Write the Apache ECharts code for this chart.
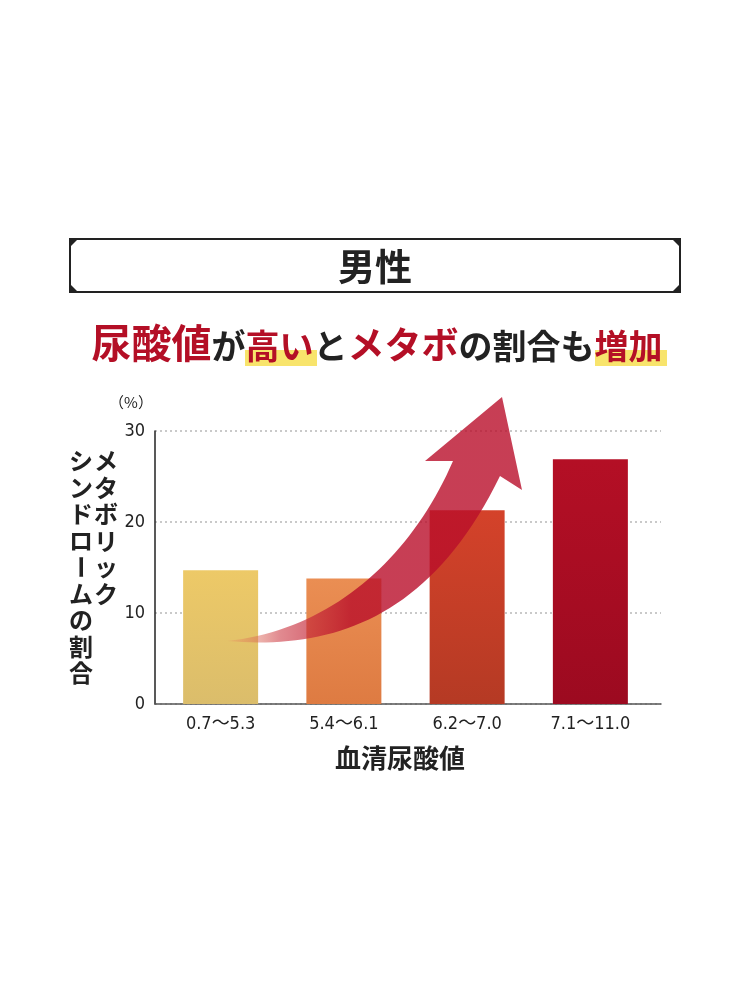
<!DOCTYPE html>
<html>
<head>
<meta charset="utf-8">
<script src="https://cdn.jsdelivr.net/npm/echarts@6/dist/echarts.min.js"></script>
<style>
	html, body { margin: 0; padding: 0; background: #fff; }
	#chart { width: 750px; height: 986px; }
</style>
</head>
<body>
<div id="chart"></div>
<script>
var categories = ['0.7〜5.3', '5.4〜6.1', '6.2〜7.0', '7.1〜11.0'];
var values = [14.7, 13.8, 21.3, 26.9];
var yTicks = [0, 10, 20, 30];
var barColors = [
	['#EDC967', '#DBBD6B'],
	['#EA8E53', '#DE7B42'],
	['#D4422A', '#B53A24'],
	['#B40F25', '#9C0A20']
];

var narrowFont = "'DejaVu Sans Condensed', 'DejaVu Sans', 'Noto Sans CJK JP', sans-serif";
var jpFont = "'Noto Sans CJK JP', sans-serif";
var red = '#B40F26';
var ink = '#222';

window.onload = function() {
	chart();
};

function verticalLabel(str, x, y0, pitch) {
	let items = [];
	for (let i = 0; i < str.length; i++) {
		let ch = str[i];
		items.push({
			type: 'text',
			x: x,
			y: y0 + i * pitch,
			rotation: ch === 'ー' ? -Math.PI / 2 : 0,
			style: {
				text: ch,
				font: 'bold 24px ' + jpFont,
				fill: ink,
				align: 'center',
				verticalAlign: 'middle'
			}
		});
	}
	return items;
}

// sample a cubic bezier into points (decoration only)
function bezier(p0, p1, p2, p3, n) {
	let pts = [];
	for (let i = 0; i <= n; i++) {
		let t = i / n, u = 1 - t;
		pts.push([
			u * u * u * p0[0] + 3 * u * u * t * p1[0] + 3 * u * t * t * p2[0] + t * t * t * p3[0],
			u * u * u * p0[1] + 3 * u * u * t * p1[1] + 3 * u * t * t * p2[1] + t * t * t * p3[1]
		]);
	}
	return pts;
}

function arrowPoints() {
	let upper = bezier([227, 641], [330, 630], [410, 560], [453, 461], 40);
	let head = [[425, 461], [502, 397], [522, 490]];
	let lower = bezier([500, 476], [430, 620], [330, 650], [227, 641], 40);
	return upper.concat(head, lower);
}

function chart() {
	let myChart = echarts.init(document.getElementById('chart'));

	let corner = 8;
	let box = { x: 70, y: 239, w: 610, h: 53 };

	let graphics = [
		// title box
		{
			type: 'rect',
			shape: { x: box.x, y: box.y, width: box.w, height: box.h },
			style: { fill: 'none', stroke: ink, lineWidth: 2 }
		},
		{ type: 'polygon', shape: { points: [[box.x, box.y], [box.x + corner, box.y], [box.x, box.y + corner]] }, style: { fill: ink } },
		{ type: 'polygon', shape: { points: [[box.x + box.w, box.y], [box.x + box.w - corner, box.y], [box.x + box.w, box.y + corner]] }, style: { fill: ink } },
		{ type: 'polygon', shape: { points: [[box.x, box.y + box.h], [box.x + corner, box.y + box.h], [box.x, box.y + box.h - corner]] }, style: { fill: ink } },
		{ type: 'polygon', shape: { points: [[box.x + box.w, box.y + box.h], [box.x + box.w - corner, box.y + box.h], [box.x + box.w, box.y + box.h - corner]] }, style: { fill: ink } },
		{
			type: 'text',
			x: 375,
			y: 267,
			style: {
				text: '男性',
				font: 'bold 37px ' + jpFont,
				fill: ink,
				align: 'center',
				verticalAlign: 'middle'
			}
		},
		// highlights
		{ type: 'rect', z: 1, shape: { x: 245, y: 350, width: 72, height: 16 }, style: { fill: '#F8E46C' } },
		{ type: 'rect', z: 1, shape: { x: 595, y: 350, width: 72, height: 16 }, style: { fill: '#F8E46C' } },
		{
			type: 'text',
			z: 2,
			x: 377,
			y: 341,
			style: {
				text: '{b|尿酸値}{k|が}{r|高い}{k|と}{m|メタボ}{k|の割合も}{r|増加}',
				align: 'center',
				verticalAlign: 'middle',
				rich: {
					b: { font: 'bold 40px ' + jpFont, fill: red, verticalAlign: 'bottom', lineHeight: 44 },
					m: { font: 'bold 37px ' + jpFont, fill: red, verticalAlign: 'bottom', lineHeight: 44 },
					r: { font: 'bold 34px ' + jpFont, fill: red, verticalAlign: 'bottom', lineHeight: 44 },
					k: { font: 'bold 34px ' + jpFont, fill: ink, verticalAlign: 'bottom', lineHeight: 44 }
				}
			}
		},
		{
			type: 'text',
			x: 131,
			y: 402,
			style: {
				text: '（%）',
				font: '15px ' + jpFont,
				fill: ink,
				align: 'center',
				verticalAlign: 'middle'
			}
		},
		// rising arrow
		{
			type: 'polygon',
			z: 10,
			shape: { points: arrowPoints() },
			style: {
				fill: new echarts.graphic.LinearGradient(0, 0, 1, 0, [
					{ offset: 0, color: 'rgba(235,150,100,0.3)' },
					{ offset: 0.18, color: 'rgba(205,60,70,0.6)' },
					{ offset: 0.42, color: 'rgba(185,14,42,0.8)' },
					{ offset: 1, color: 'rgba(185,14,42,0.8)' }
				])
			}
		}
	];
	graphics = graphics.concat(verticalLabel('メタボリック', 106, 461, 26.5));
	graphics = graphics.concat(verticalLabel('シンドロームの割合', 81, 461, 26.5));

	option = {
		animation: false,
		backgroundColor: '#fff',
		grid: [{
			left: 155,
			right: 89,
			top: 431,
			bottom: 282
		}, {
			left: 159,
			right: 98,
			top: 431,
			bottom: 282
		}],
		xAxis: [{
			type: 'category',
			gridIndex: 0,
			data: categories,
			axisLine: { lineStyle: { color: '#555', width: 1.5 } },
			axisTick: { show: false },
			axisLabel: { show: false },
			name: '血清尿酸値',
			nameLocation: 'middle',
			nameGap: 41,
			nameTextStyle: {
				fontFamily: jpFont,
				fontWeight: 'bold',
				fontSize: 26,
				color: ink,
				padding: [0, 16, 0, 0]
			}
		}, {
			type: 'category',
			gridIndex: 1,
			data: categories,
			axisLine: { show: false },
			axisTick: { show: false },
			axisLabel: {
				margin: 11,
				fontStyle: 'condensed',
				fontFamily: narrowFont,
				fontSize: 18,
				color: ink
			}
		}],
		yAxis: [{
			type: 'value',
			gridIndex: 0,
			min: yTicks[0],
			max: yTicks[yTicks.length - 1],
			interval: 10,
			axisLine: { show: true, lineStyle: { color: ink, width: 1.5 } },
			axisTick: { show: false },
			axisLabel: {
				margin: 10,
				fontStyle: 'condensed',
				fontFamily: narrowFont,
				fontSize: 18,
				color: ink
			},
			splitLine: {
				show: true,
				lineStyle: { color: '#B8B8B8', type: [2, 3], width: 1.5 }
			}
		}, {
			type: 'value',
			gridIndex: 1,
			min: yTicks[0],
			max: yTicks[yTicks.length - 1],
			show: false
		}],
		series: [{
			type: 'bar',
			xAxisIndex: 1,
			yAxisIndex: 1,
			barWidth: 75,
			z: 3,
			data: values.map(function(v, i) {
				return {
					value: v,
					itemStyle: {
						color: new echarts.graphic.LinearGradient(0, 0, 0, 1, [
							{ offset: 0, color: barColors[i][0] },
							{ offset: 1, color: barColors[i][1] }
						])
					}
				};
			})
		}],
		graphic: graphics
	};

	myChart.setOption(option);
}
</script>
</body>
</html>
